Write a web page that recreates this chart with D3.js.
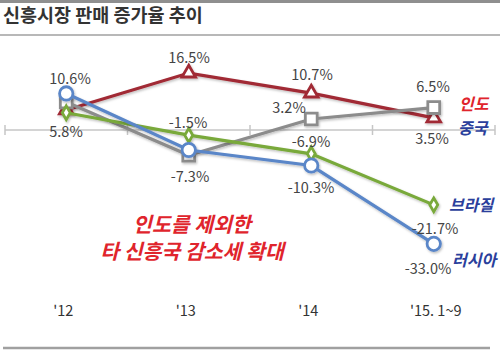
<!DOCTYPE html>
<html>
<head>
<meta charset="utf-8">
<script src="https://cdn.jsdelivr.net/npm/d3@7"></script>
<style>
  body { margin: 0; background: #fff; }
  svg text { font-family: "Noto Sans CJK KR", "Noto Sans", sans-serif; }
</style>
</head>
<body>
<div class="chart"></div>
<script>
// categories and series values (%)
let years = ["'12", "'13", "'14", "'15. 1~9"];
let india = [5.8, 16.5, 10.7, 3.5];
let china = [8.1, -7.3, 3.2, 6.5];
let russia = [10.6, -5.8, -10.3, -33.0];
let brazil = [5.0, -1.5, -6.9, -21.7];

let width = 500, height = 352;

let svg = d3.select('div.chart').append('svg')
  .attr('width', width)
  .attr('height', height);

let x = d3.scaleBand().domain(years).range([5, 495]);
let y = d3.scaleLinear().domain([-35, 20]).range([250.75, 61]);
let cx = d => x(d) + x.bandwidth() / 2;

// frame lines
svg.append('rect').attr('x', 0).attr('y', 0).attr('width', width).attr('height', 3).attr('fill', '#8f8f8f');
svg.append('line').attr('x1', 0).attr('x2', width).attr('y1', 35).attr('y2', 35)
  .attr('stroke', '#a0a0a0').attr('stroke-width', 1.5);
svg.append('line').attr('x1', 3).attr('x2', 490).attr('y1', 348).attr('y2', 348)
  .attr('stroke', '#a0a0a0').attr('stroke-width', 2.5);

svg.append('text').attr('x', 3).attr('y', 22)
  .attr('font-size', 18.5).attr('font-weight', 'bold').attr('fill', '#333')
  .text('신흥시장 판매 증가율 추이');

// zero axis with ticks at band edges
let axis = svg.append('g').attr('transform', 'translate(0,' + y(0) + ')');
axis.append('line').attr('x1', 5).attr('x2', 495).attr('stroke', '#c6c6c6').attr('stroke-width', 1.5);
let edges = years.map(d => x(d)).concat([495]);
axis.selectAll('line.tick').data(edges).enter().append('line')
  .attr('class', 'tick')
  .attr('x1', d => d).attr('x2', d => d)
  .attr('y1', -5).attr('y2', 5)
  .attr('stroke', '#c6c6c6').attr('stroke-width', 1.5);

// x labels
svg.selectAll('text.xl').data(years).enter().append('text')
  .attr('class', 'xl')
  .attr('x', (d, i) => cx(d) + (i == 3 ? 2 : -3))
  .attr('y', 316)
  .attr('text-anchor', 'middle')
  .attr('font-size', 14.5).attr('fill', '#333')
  .text(d => d);

let defs = svg.append('defs');
let f = defs.append('filter').attr('id', 'sh').attr('x', '-10%').attr('y', '-10%').attr('width', '120%').attr('height', '130%');
f.append('feDropShadow').attr('dx', 1).attr('dy', 1.5).attr('stdDeviation', 1).attr('flood-color', '#000').attr('flood-opacity', 0.25);

let line = d3.line().x((d, i) => cx(years[i])).y(d => y(d));

let series = [
  {name: 'india', values: india, color: '#a12a34', shape: d3.symbolTriangle, size: 80},
  {name: 'china', values: china, color: '#8c8c8c', shape: d3.symbolSquare, size: 140},
  {name: 'brazil', values: brazil, color: '#79a93a', shape: d3.symbolDiamond, size: 55},
  {name: 'russia', values: russia, color: '#5a86c8', shape: d3.symbolCircle, size: 140}
];

series.forEach(s => {
  let g = svg.append('g').attr('filter', 'url(#sh)');
  g.append('path').datum(s.values)
    .attr('d', line)
    .attr('fill', 'none')
    .attr('stroke', s.color)
    .attr('stroke-width', 3.2);
  g.selectAll('path.m').data(s.values).enter().append('path')
    .attr('class', 'm')
    .attr('transform', (d, i) => 'translate(' + cx(years[i]) + ',' + y(d) + ')')
    .attr('d', d3.symbol().type(s.shape).size(s.size))
    .attr('fill', '#fff')
    .attr('stroke', s.color)
    .attr('stroke-width', 2.8);
});

// data labels: [series, index, label x, label y]
let labelSpots = [
  [russia, 0, 70, 84], [india, 0, 66, 137],
  [india, 1, 189, 63], [brazil, 1, 188, 128], [china, 1, 190, 182],
  [india, 2, 312, 80], [china, 2, 289, 113], [brazil, 2, 311, 147], [russia, 2, 311, 193],
  [china, 3, 433, 92], [india, 3, 432, 144], [brazil, 3, 435, 234], [russia, 3, 428, 274]
];
svg.selectAll('text.dl').data(labelSpots).enter().append('text')
  .attr('class', 'dl')
  .attr('x', d => d[2]).attr('y', d => d[3])
  .attr('text-anchor', 'middle')
  .attr('font-size', 14.5).attr('fill', '#444')
  .text(d => d[0][d[1]].toFixed(1) + '%');

// series names
let names = [
  ['인도', '#e0242c', 459, 110],
  ['중국', '#2b3f9c', 458, 134],
  ['브라질', '#2b3f9c', 449, 211],
  ['러시아', '#2b3f9c', 452, 266]
];
svg.selectAll('text.nm').data(names).enter().append('text')
  .attr('class', 'nm')
  .attr('x', d => d[2]).attr('y', d => d[3])
  .attr('font-size', 16).attr('font-weight', 'bold').attr('font-style', 'italic')
  .attr('fill', d => d[1])
  .text(d => d[0]);

// annotation
let note = ['인도를 제외한', '타 신흥국 감소세 확대'];
svg.selectAll('text.nt').data(note).enter().append('text')
  .attr('class', 'nt')
  .attr('x', 192).attr('y', (d, i) => 232 + i * 27)
  .attr('text-anchor', 'middle')
  .attr('font-size', 20.5).attr('font-weight', 'bold').attr('font-style', 'italic')
  .attr('fill', '#e0242c')
  .text(d => d);
</script>
</body>
</html>
